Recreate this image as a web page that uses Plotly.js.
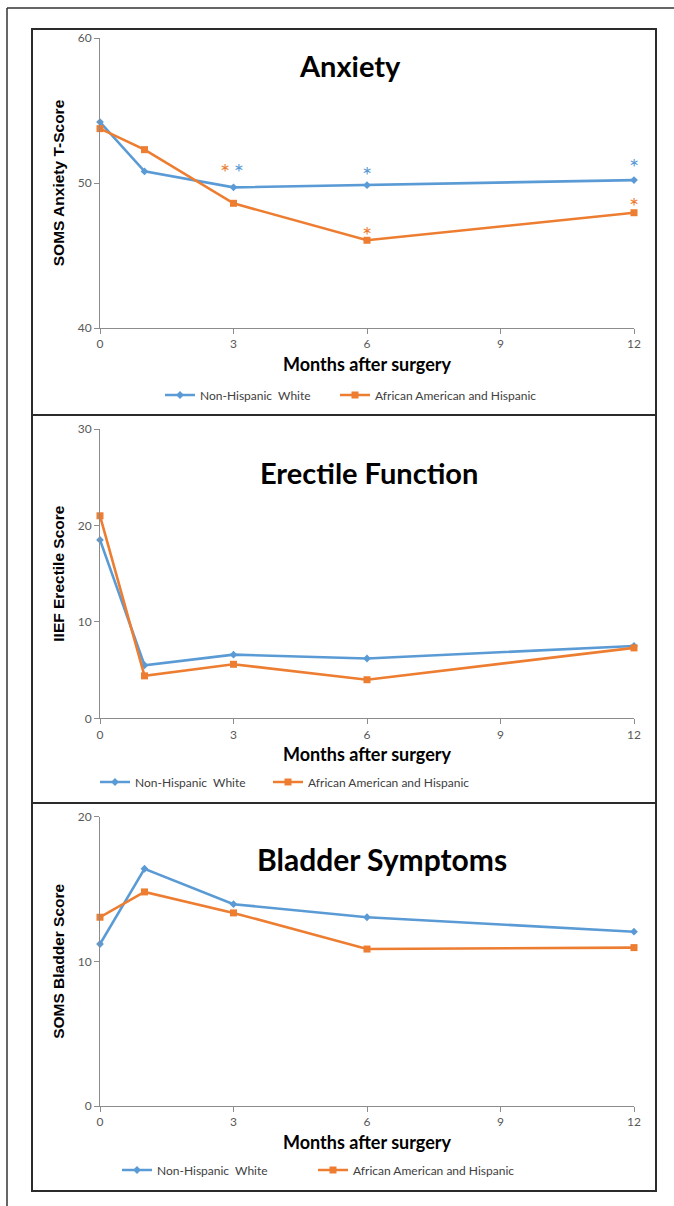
<!DOCTYPE html>
<html>
<head>
<meta charset="utf-8">
<script src="https://cdn.plot.ly/plotly-3.0.1.min.js"></script>
<style>
  html, body { margin: 0; padding: 0; background: #fff; }
  #chart { width: 674px; height: 1206px; }
</style>
</head>
<body>
<div id="chart"></div>
<script>
// ---- data ----
const months = [0, 1, 3, 6, 12];
const xTicks = [0, 3, 6, 9, 12];
const seriesNames = ['Non-Hispanic  White', 'African American and Hispanic'];

const anxietyWhite = [54.2, 50.8, 49.7, 49.85, 50.2];
const anxietyAAH   = [53.75, 52.3, 48.6, 46.05, 47.95];
const erectileWhite = [18.5, 5.5, 6.6, 6.2, 7.5];
const erectileAAH   = [21.0, 4.4, 5.6, 4.0, 7.3];
const bladderWhite = [11.2, 16.4, 13.95, 13.05, 12.05];
const bladderAAH   = [13.05, 14.8, 13.35, 10.85, 10.95];

// significance markers (asterisks) on the anxiety panel
const starWhiteX = [3.12, 6, 12];
const starWhiteY = [51.35, 51.2, 51.7];
const starAAHX = [2.81, 6, 12];
const starAAHY = [51.35, 47.05, 49.05];

const panelTitles = ['Anxiety', 'Erectile Function', 'Bladder Symptoms'];
const yTitles = ['SOMS Anxiety T-Score', 'IIEF Erectile Score', 'SOMS Bladder Score'];
const yRanges = [[40, 60], [0, 30], [0, 20]];
const yTicks = [[40, 50, 60], [0, 10, 20, 30], [0, 10, 20]];
const xTitle = 'Months after surgery';

// ---- styling ----
const W = 674, H = 1206;
const BLUE = '#5B9BD5', ORANGE = '#ED7D31';
const px = v => v / W;           // pixel -> paper x
const py = v => 1 - v / H;       // pixel -> paper y

const traces = [];
const whiteSets = [anxietyWhite, erectileWhite, bladderWhite];
const aahSets = [anxietyAAH, erectileAAH, bladderAAH];
for (let i = 0; i < 3; i++) {
  const xa = i === 0 ? 'x' : 'x' + (i + 1);
  const ya = i === 0 ? 'y' : 'y' + (i + 1);
  traces.push({
    x: months, y: whiteSets[i], xaxis: xa, yaxis: ya, type: 'scatter', mode: 'lines+markers',
    name: seriesNames[0], legend: 'legend' + (i === 0 ? '' : (2 * i + 1)), cliponaxis: false,
    line: { color: BLUE, width: 2.6 },
    marker: { symbol: 'diamond', size: 6, color: BLUE }
  });
  traces.push({
    x: months, y: aahSets[i], xaxis: xa, yaxis: ya, type: 'scatter', mode: 'lines+markers',
    name: seriesNames[1], legend: 'legend' + (2 * i + 2), cliponaxis: false,
    line: { color: ORANGE, width: 2.6 },
    marker: { symbol: 'square', size: 7, color: ORANGE }
  });
}
traces.push({
  x: starWhiteX, y: starWhiteY, xaxis: 'x', yaxis: 'y', type: 'scatter', mode: 'text',
  text: starWhiteX.map(() => '*'), textposition: 'bottom center', cliponaxis: false,
  textfont: { family: 'Lato, sans-serif', size: 24, color: BLUE }, showlegend: false, hoverinfo: 'skip'
});
traces.push({
  x: starAAHX, y: starAAHY, xaxis: 'x', yaxis: 'y', type: 'scatter', mode: 'text',
  text: starAAHX.map(() => '*'), textposition: 'bottom center', cliponaxis: false,
  textfont: { family: 'Lato, sans-serif', size: 24, color: ORANGE }, showlegend: false, hoverinfo: 'skip'
});

// panel geometry (pixels)
const plotLeft = 100, plotRight = 634;
const plotTops = [38, 429, 816.7];
const plotBottoms = [328, 718.3, 1106];

const layout = {
  width: W, height: H,
  margin: { l: 0, r: 0, t: 0, b: 0 },
  paper_bgcolor: '#fff', plot_bgcolor: '#fff',
  showlegend: true,
  annotations: [],
  shapes: []
};

const axisCommon = {
  showgrid: false, zeroline: false, showline: true,
  linecolor: '#8c8c8c', linewidth: 1, ticks: 'outside', ticklen: 5, tickcolor: '#8c8c8c',
  tickfont: { family: 'Lato, sans-serif', size: 12, color: '#595959' },
  automargin: false, fixedrange: true
};

for (let i = 0; i < 3; i++) {
  const xk = i === 0 ? 'xaxis' : 'xaxis' + (i + 1);
  const yk = i === 0 ? 'yaxis' : 'yaxis' + (i + 1);
  const ya = i === 0 ? 'y' : 'y' + (i + 1);
  const xa = i === 0 ? 'x' : 'x' + (i + 1);
  layout[xk] = Object.assign({}, axisCommon, {
    domain: [px(plotLeft), px(plotRight)], anchor: ya,
    range: [0, 12], tickvals: xTicks,
    title: { text: xTitle, standoff: 7,
      font: { family: 'Lato, sans-serif', size: 18, color: '#000', weight: 'bold' } }
  });
  layout[yk] = Object.assign({}, axisCommon, {
    domain: [py(plotBottoms[i]), py(plotTops[i])], anchor: xa,
    range: yRanges[i], tickvals: yTicks[i],
    title: { text: yTitles[i], standoff: 9,
      font: { family: 'Liberation Sans, Arial, sans-serif', size: 15.5, color: '#000', weight: 'bold' } }
  });
}

// panel titles
const titlePos = [[350, 65], [369, 472], [382, 859]];
const titleSizes = [29, 29, 30];
for (let i = 0; i < 3; i++) {
  layout.annotations.push({
    xref: 'paper', yref: 'paper', x: px(titlePos[i][0]), y: py(titlePos[i][1]),
    xanchor: 'center', yanchor: 'middle', showarrow: false, text: panelTitles[i],
    font: { family: 'Lato, sans-serif', size: titleSizes[i], color: '#000', weight: 'bold' }
  });
}

// legends: one per entry, so each entry sits where the reference has it
const legendPos = [[160, 395], [335, 395], [95, 782], [268, 782], [117, 1170], [313, 1170]];
legendPos.forEach((p, k) => {
  const id = 'legend' + (k === 0 ? '' : (k + 1));
  layout[id] = {
    orientation: 'h', x: px(p[0]), y: py(p[1]),
    xanchor: 'left', yanchor: 'middle', bgcolor: 'rgba(0,0,0,0)',
    font: { family: 'Lato, sans-serif', size: 12, color: '#404040' }
  };
});

// frames
const panelBoxes = [[29, 415], [415, 803], [803, 1191]];
panelBoxes.forEach(b => {
  layout.shapes.push({
    type: 'rect', xref: 'paper', yref: 'paper', layer: 'above',
    x0: px(32), x1: px(656), y0: py(b[1]), y1: py(b[0]),
    line: { color: '#2b2b2b', width: 2 }, fillcolor: 'rgba(0,0,0,0)'
  });
});
layout.shapes.push({ type: 'line', xref: 'paper', yref: 'paper', x0: px(7), x1: 1, y0: py(8), y1: py(8), line: { color: '#333', width: 1.5 } });
layout.shapes.push({ type: 'line', xref: 'paper', yref: 'paper', x0: px(7), x1: px(7), y0: py(8), y1: 0, line: { color: '#333', width: 1.5 } });

Plotly.newPlot('chart', traces, layout, { displayModeBar: false, staticPlot: true });
</script>
</body>
</html>
